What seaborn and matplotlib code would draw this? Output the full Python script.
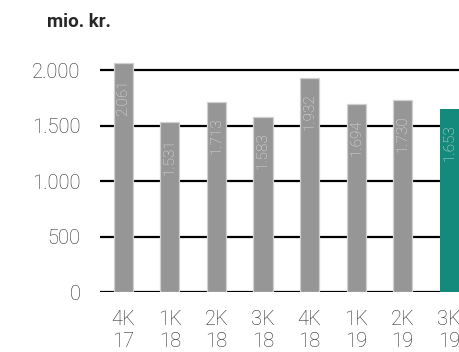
import numpy as np
import pandas as pd
import matplotlib.pyplot as plt
import seaborn as sns

# quarters and revenue (mio. kr.)
quarters = ['4K\n17', '1K\n18', '2K\n18', '3K\n18', '4K\n18', '1K\n19', '2K\n19', '3K\n19']
values = [2061, 1531, 1713, 1583, 1932, 1694, 1730, 1653]
labels = ['2.061', '1.531', '1.713', '1.583', '1.932', '1.694', '1.730', '1.653']
yticks = [0, 500, 1000, 1500, 2000]
ytick_labels = ['0', '500', '1.000', '1.500', '2.000']
groups = ['old'] * 7 + ['current']

df = pd.DataFrame({'quarter': quarters, 'value': values, 'group': groups})

sns.set_style('white')
plt.rcParams['font.family'] = ['Roboto', 'DejaVu Sans']

fig = plt.figure(figsize=(4.59, 3.52), dpi=100)
ax = fig.add_axes([0.218, 0.170, 0.782, 0.662])

sns.barplot(data=df, x='quarter', y='value', hue='group',
            palette={'old': '#969696', 'current': '#009e8c'},
            dodge=False, width=0.41, linewidth=0,
            legend=False, ax=ax)

# grid lines behind the bars
ax.set_axisbelow(True)
ax.grid(axis='y', color='black', lw=1.6)
ax.grid(axis='x', visible=False)

# grey bars get a pale outline
for p in ax.patches:
    p.set_zorder(3)
    fc = p.get_facecolor()
    if p.get_height() > 0 and abs(fc[0] - fc[1]) < 0.01:
        p.set_edgecolor('#d0d0d0')
        p.set_linewidth(0.9)

for i, (v, lab) in enumerate(zip(values, labels)):
    ax.text(i, v - 140, lab, rotation=90, ha='center', va='top',
            color='#e2e2e2', fontsize=11, fontweight='light', zorder=4)

ax.set_xlim(-0.5, 7.21)
ax.set_ylim(0, 2100)
ax.set_yticks(yticks)
ax.set_yticklabels(ytick_labels, fontsize=14.5, fontweight='light', color='#2a2a2a')
ax.set_xticks(range(len(quarters)))
ax.set_xticklabels(quarters, fontsize=14.5, fontweight='light', color='#2a2a2a', linespacing=1.2)
ax.tick_params(axis='y', length=0, pad=14)
ax.tick_params(axis='x', length=0, pad=13)
ax.set_xlabel('')
ax.set_ylabel('')
for s in ax.spines.values():
    s.set_visible(False)

fig.text(0.103, 0.937, 'mio. kr.', fontsize=13.5, fontweight='bold', ha='left', va='center')

fig.savefig('out.png', dpi=100)
